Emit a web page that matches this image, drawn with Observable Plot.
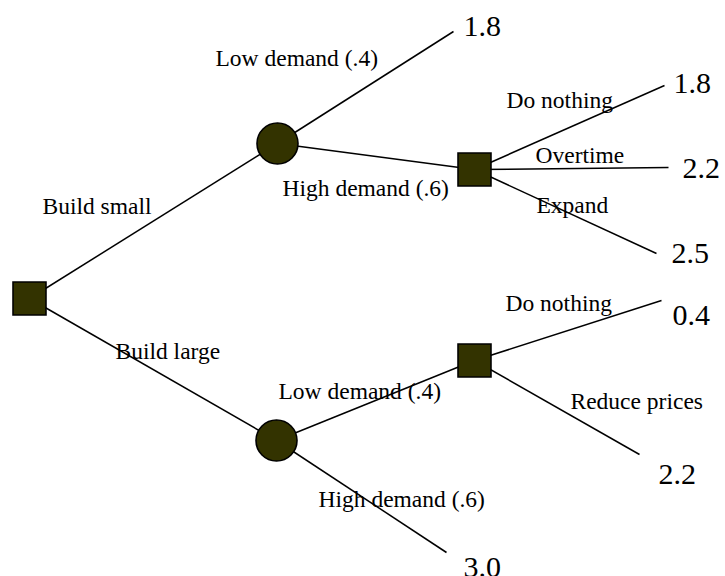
<!DOCTYPE html>
<html>
<head>
<meta charset="utf-8">
<script src="https://cdn.jsdelivr.net/npm/d3@7"></script>
<script src="https://cdn.jsdelivr.net/npm/@observablehq/plot@0.6"></script>
<style>
  html, body { margin: 0; padding: 0; background: #ffffff; }
  #chart svg { display: block; }
</style>
</head>
<body>
<div id="chart"></div>
<script>
// ---- Tree content ----
const nodeIds   = ["root", "c1", "c2", "d1", "d2", "t1", "t2", "t3", "t4", "t5", "t6", "t7"];
const nodeKinds = ["decision", "chance", "chance", "decision", "decision", "end", "end", "end", "end", "end", "end", "end"];

const edgeFrom   = ["root", "root", "c1", "c1", "d1", "d1", "d1", "c2", "c2", "d2", "d2"];
const edgeTo     = ["c1", "c2", "t1", "d1", "t2", "t3", "t4", "d2", "t7", "t5", "t6"];
const edgeLabels = ["Build small", "Build large", "Low demand (.4)", "High demand (.6)",
                    "Do nothing", "Overtime", "Expand", "Low demand (.4)", "High demand (.6)",
                    "Do nothing", "Reduce prices"];

const payoffNodes  = ["t1", "t2", "t3", "t4", "t5", "t6", "t7"];
const payoffLabels = ["1.8", "1.8", "2.2", "2.5", "0.4", "2.2", "3.0"];

// ---- Diagram layout (diagram units) ----
const nodeX = [29, 277, 276, 474, 474, 453, 664, 668, 656, 661, 639, 446];
const nodeY = [298, 143, 440, 169, 360, 31, 85, 167, 253, 300, 454, 552];
const edgeLabelX = [42, 115, 215, 282, 506, 535, 536, 278, 318, 505, 570];
const edgeLabelY = [213, 358, 65, 195, 107, 162, 212, 398, 506, 310, 408];
const payoffX = [463, 673, 682, 671, 672, 658, 463];
const payoffY = [35, 92, 177, 262, 324, 483, 576];

// ---- Tables built from the arrays ----
const nodes = nodeIds.map((id, i) => ({id, kind: nodeKinds[i], x: nodeX[i], y: nodeY[i]}));
const byId = new Map(nodes.map(n => [n.id, n]));
const edges = edgeFrom.map((f, i) => ({
  from: byId.get(f), to: byId.get(edgeTo[i]),
  label: edgeLabels[i], lx: edgeLabelX[i], ly: edgeLabelY[i]
}));
const payoffs = payoffNodes.map((id, i) => ({id, label: payoffLabels[i], x: payoffX[i], y: payoffY[i]}));

const fillColor = "#333300";
const font = "Liberation Serif";

const chart = Plot.plot({
  width: 725,
  height: 576,
  margin: 0,
  x: {domain: [0, 725], range: [0, 725], axis: null},
  y: {domain: [0, 576], range: [0, 576], axis: null},
  style: {fontFamily: font, background: "#ffffff"},
  marks: [
    Plot.link(edges, {
      x1: d => d.from.x, y1: d => d.from.y,
      x2: d => d.to.x, y2: d => d.to.y,
      stroke: "#000000", strokeWidth: 1.5
    }),
    Plot.dot(nodes.filter(d => d.kind === "chance"), {
      x: "x", y: "y", r: 20.5, symbol: "circle",
      fill: fillColor, stroke: "#000000", strokeWidth: 1.6
    }),
    Plot.dot(nodes.filter(d => d.kind === "decision"), {
      x: "x", y: "y", r: 18.6, symbol: "square",
      fill: fillColor, stroke: "#000000", strokeWidth: 1.6
    }),
    Plot.text(edges, {
      x: "lx", y: "ly", text: "label",
      textAnchor: "start", lineAnchor: "bottom",
      fontFamily: font, fontSize: 23.5, fill: "#000000"
    }),
    Plot.text(payoffs, {
      x: "x", y: "y", text: "label",
      textAnchor: "start", lineAnchor: "bottom",
      fontFamily: font, fontSize: 30, fill: "#000000"
    })
  ]
});

document.getElementById("chart").appendChild(chart);
</script>
</body>
</html>
